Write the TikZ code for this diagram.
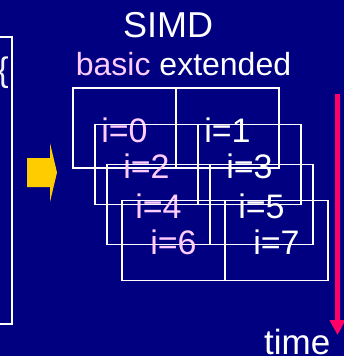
\documentclass[tikz,border=0pt]{standalone}
\usepackage{fontspec}
\setmainfont{Liberation Sans}
\usetikzlibrary{arrows.meta,positioning}
\definecolor{navy}{RGB}{0,0,128}
\definecolor{pinky}{RGB}{255,204,255}
\definecolor{gold}{RGB}{255,204,0}
\definecolor{crimson}{RGB}{255,0,102}
\tikzset{
  lane/.style={draw=white,line width=1.5pt,minimum width=103pt,minimum height=80pt,
               inner sep=0pt,outer sep=0pt,text height=28pt,text depth=0pt,
               font=\fontsize{34}{40}\selectfont},
  basiclane/.style={lane,text=pinky},
  extlane/.style={lane,text=white},
  timeline/.style={-{Triangle[length=15pt,width=15pt]},line width=5pt,draw=crimson}
}

\begin{document}
\begin{tikzpicture}[x=1pt,y=-1pt]
  \useasboundingbox (0,0) rectangle (344,356);
  \fill[navy] (0,0) rectangle (344,356);
  % loop code on the left
  \node[draw=white,line width=2pt,minimum width=22pt,minimum height=287pt,inner sep=0pt]
    (code) at (1,180.5) {};
  \node[anchor=base east,text=white!90!gray,inner sep=0pt,font=\fontsize{34}{40}\selectfont]
    (brace) at (9,81) {\{};
  \fill[gold] (27,158) -- (50,158) -- (50,143) -- (57,172.5) -- (50,202) -- (50,187) -- (27,187) -- cycle;
  % SIMD lanes
  \node[anchor=base,text=white,font=\fontsize{36}{42}\selectfont] (simd) at (168,37) {SIMD};
  \node[anchor=base,text=white,font=\fontsize{32}{38}\selectfont] (kind) at (183.5,75)
    {\textcolor{pinky}{basic} extended};
  \node[basiclane] (i0) at (124.5,128) {i=0};
  \node[extlane,right=0pt of i0] (i1) {i=1};
  \node[basiclane] (i2) at (146.5,164.5) {i=2};
  \node[extlane,right=0pt of i2] (i3) {i=3};
  \node[basiclane] (i4) at (158.5,204.5) {i=4};
  \node[extlane,right=0pt of i4] (i5) {i=5};
  \node[basiclane] (i6) at (173.5,240.5) {i=6};
  \node[extlane,right=0pt of i6] (i7) {i=7};
  % time axis
  \coordinate (t0) at (337.5,94);
  \coordinate (t1) at (337.5,335);
  \draw[timeline] (t0) -- (t1);
  \node[anchor=base west,text=white,inner sep=0pt,font=\fontsize{35}{42}\selectfont]
    (time) at (264,354) {time};
\end{tikzpicture}
\end{document}
